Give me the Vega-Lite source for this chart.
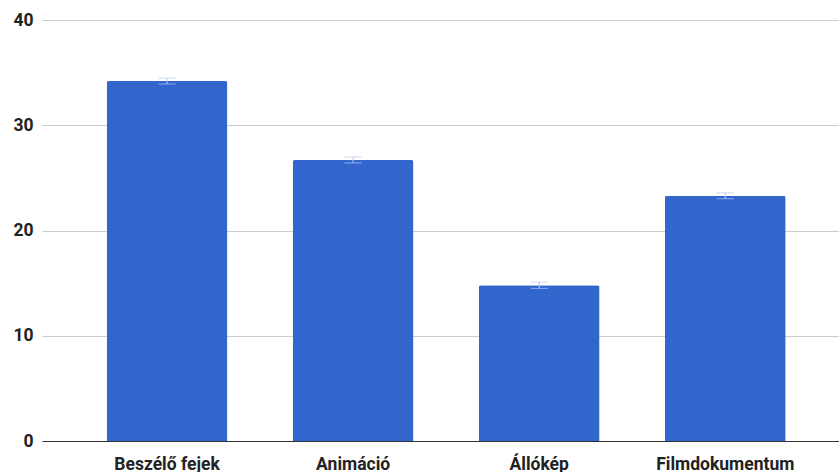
{
  "$schema": "https://vega.github.io/schema/vega-lite/v6.json",
  "width": 797,
  "height": 421,
  "autosize": {"type": "none"},
  "padding": {"left": 42, "top": 20, "right": 0, "bottom": 31},
  "config": {
    "view": {"stroke": null},
    "font": "Roboto"
  },
  "data": {
    "values": [
      {"category": "Beszélő fejek", "value": 34.2, "err": 0.28},
      {"category": "Animáció", "value": 26.7, "err": 0.28},
      {"category": "Állókép", "value": 14.8, "err": 0.3},
      {"category": "Filmdokumentum", "value": 23.3, "err": 0.28}
    ]
  },
  "encoding": {
    "x": {
      "field": "category",
      "type": "nominal",
      "sort": null,
      "title": null,
      "scale": {"paddingInner": 0.351, "paddingOuter": 0.317, "align": 0.548},
      "axis": {
        "labelAngle": 0,
        "labelFontSize": 17.5,
        "labelFontWeight": "bold",
        "labelColor": "#222222",
        "labelPadding": 14,
        "ticks": false,
        "domainColor": "#333333",
        "domainWidth": 1
      }
    }
  },
  "layer": [
    {
      "mark": {
        "type": "bar",
        "color": "#3366cc",
        "cornerRadiusTopLeft": 2,
        "cornerRadiusTopRight": 2
      },
      "encoding": {
        "y": {
          "field": "value",
          "type": "quantitative",
          "title": null,
          "scale": {"domain": [0, 40]},
          "axis": {
            "values": [0, 10, 20, 30, 40],
            "grid": true,
            "gridColor": "#cccccc",
            "domain": false,
            "ticks": false,
            "labelFontSize": 17.5,
            "labelFontWeight": "bold",
            "labelColor": "#222222",
            "labelPadding": 9
          }
        }
      }
    },
    {
      "mark": {
        "type": "errorbar",
        "color": "#b7c7ef",
        "thickness": 1,
        "ticks": {"size": 17, "color": "#b7c7ef", "strokeWidth": 2}
      },
      "encoding": {
        "y": {
          "field": "value",
          "type": "quantitative",
          "title": null,
          "axis": {
            "values": [0, 10, 20, 30, 40],
            "grid": true,
            "gridColor": "#cccccc",
            "domain": false,
            "ticks": false,
            "labelFontSize": 17.5,
            "labelFontWeight": "bold",
            "labelColor": "#222222",
            "labelPadding": 9
          }
        },
        "yError": {"field": "err"}
      }
    }
  ]
}
